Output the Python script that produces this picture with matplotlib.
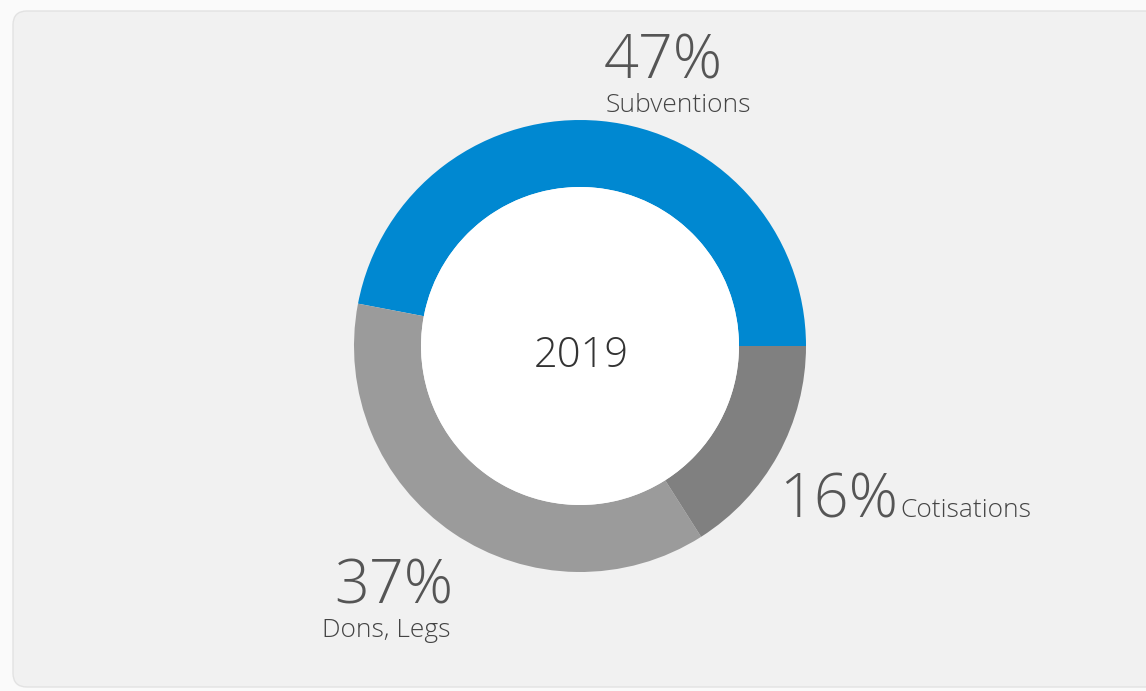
import matplotlib.pyplot as plt
from matplotlib.patches import FancyBboxPatch, Circle

# Données
categories = ["Subventions", "Dons, Legs", "Cotisations"]
valeurs = [47, 37, 16]
couleurs = ["#0088d1", "#9b9b9b", "#808080"]
annee = "2019"

plt.rcParams['font.family'] = ['Open Sans', 'DejaVu Sans']

fig = plt.figure(figsize=(11.46, 6.91), dpi=100)
fig.patch.set_facecolor("#fafafa")
ax = fig.add_axes([0, 0, 1, 1])

# panneau gris arrondi
panneau = FancyBboxPatch((13, 4), 1150, 676, boxstyle="round,pad=0,rounding_size=14",
                         facecolor="#f1f1f1", edgecolor="#e2e2e2", linewidth=1)
ax.add_patch(panneau)

# anneau
ax.pie(valeurs, colors=couleurs, startangle=0, counterclock=True,
       center=(580, 345), radius=226, frame=True,
       wedgeprops=dict(width=67, edgecolor="none"))
ax.add_patch(Circle((580, 345), 159, facecolor="white", edgecolor="none", zorder=3))
ax.set_xlim(0, 1146)
ax.set_ylim(0, 691)
ax.set_aspect("equal")
ax.axis("off")

ax.text(581, 335, annee, ha="center", va="center", fontsize=30, color="#333333",
        fontweight="light", zorder=4)

# étiquettes
pct = dict(fontsize=44, color="#555555", fontweight="light")
lab = dict(fontsize=19, color="#444444", fontweight="light")

ax.text(663, 613, f"{valeurs[0]}%", ha="center", va="baseline", **pct)
ax.text(678, 579, categories[0], ha="center", va="baseline", **lab)

ax.text(394, 87, f"{valeurs[1]}%", ha="center", va="baseline", **pct)
ax.text(386, 54, categories[1], ha="center", va="baseline", **lab)

ax.text(898, 174, f"{valeurs[2]}%", ha="right", va="baseline", **pct)
ax.text(900, 174, categories[2], ha="left", va="baseline", **lab)

fig.savefig("out.png", dpi=100, facecolor=fig.get_facecolor())
